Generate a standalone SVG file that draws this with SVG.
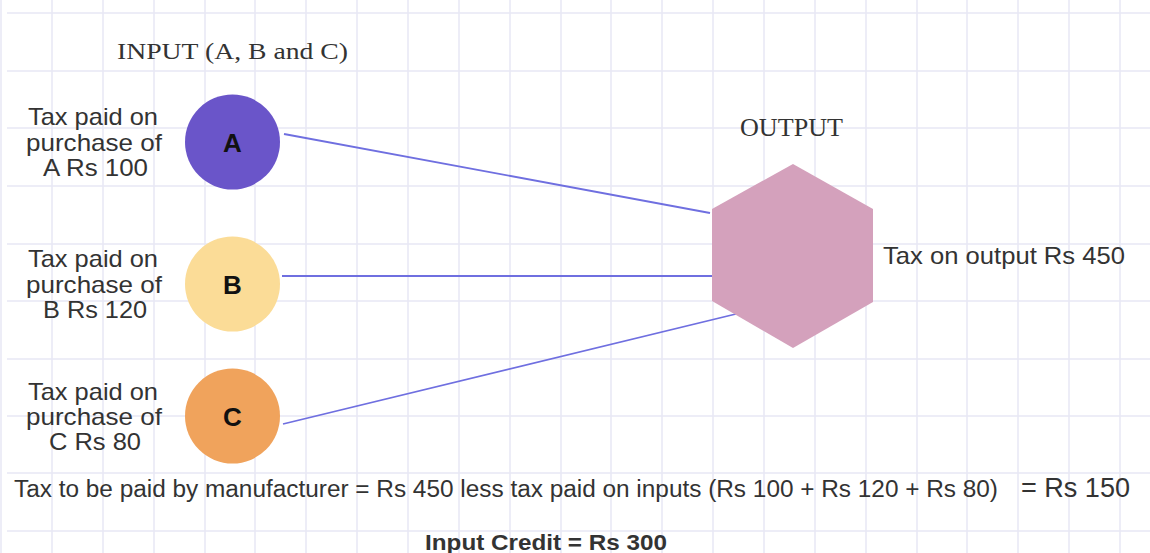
<svg xmlns="http://www.w3.org/2000/svg" width="1150" height="553" viewBox="0 0 1150 553">
<style>
.grid{stroke:#e8e8f5;stroke-width:1.5;fill:none}
.lbl{font-family:"Liberation Sans",Arial,sans-serif;font-size:24px;fill:#333;text-anchor:middle}
.nodeTxt{font-family:"Liberation Sans",Arial,sans-serif;font-size:26px;font-weight:bold;fill:#111;text-anchor:middle}
.serif{font-family:"Liberation Serif","Times New Roman",serif;fill:#333}
.sans{font-family:"Liberation Sans",Arial,sans-serif;fill:#333}
.conn{stroke:#6f6fe0;stroke-width:1.8;fill:none}
</style>
<rect width="1150" height="553" fill="#ffffff"/>
<g id="grid">
<path class="grid" d="M1,0V553M52,0V553M103,0V553M154,0V553M205,0V553M255,0V553M306,0V553M357,0V553M408,0V553M459,0V553M510,0V553M561,0V553M611,0V553M662,0V553M713,0V553M764,0V553M815,0V553M866,0V553M917,0V553M967,0V553M1018,0V553M1069,0V553M1120,0V553"/>
<path class="grid" d="M7,13H1150M7,71H1150M7,128H1150M7,186H1150M7,244H1150M7,301H1150M7,359H1150M7,416H1150M7,473H1150M7,531H1150"/>
</g>
<g id="connectors">
<line class="conn" x1="284" y1="134" x2="710" y2="213"/>
<line class="conn" x1="282" y1="276" x2="713" y2="276"/>
<line class="conn" x1="283" y1="424" x2="740" y2="313"/>
</g>
<g id="input-title">
<text class="serif" x="117" y="59" font-size="24" textLength="231" lengthAdjust="spacingAndGlyphs">INPUT (A, B and C)</text>
</g>
<g id="node-A">
<circle cx="232.5" cy="142" r="47.5" fill="#6a55c9"/>
<text class="nodeTxt" x="232.5" y="151.5">A</text>
<text class="lbl" x="93" y="125" textLength="130" lengthAdjust="spacingAndGlyphs">Tax paid on</text>
<text class="lbl" x="94" y="150.5" textLength="136" lengthAdjust="spacingAndGlyphs">purchase of</text>
<text class="lbl" x="95.5" y="176" textLength="105" lengthAdjust="spacingAndGlyphs">A Rs 100</text>
</g>
<g id="node-B">
<circle cx="232.5" cy="284" r="47.5" fill="#fbdc97"/>
<text class="nodeTxt" x="232.5" y="293.5">B</text>
<text class="lbl" x="93" y="267" textLength="130" lengthAdjust="spacingAndGlyphs">Tax paid on</text>
<text class="lbl" x="94" y="292.5" textLength="136" lengthAdjust="spacingAndGlyphs">purchase of</text>
<text class="lbl" x="95" y="318" textLength="104" lengthAdjust="spacingAndGlyphs">B Rs 120</text>
</g>
<g id="node-C">
<circle cx="232.5" cy="416" r="47.5" fill="#f0a35c"/>
<text class="nodeTxt" x="232.5" y="425.5">C</text>
<text class="lbl" x="93" y="400" textLength="130" lengthAdjust="spacingAndGlyphs">Tax paid on</text>
<text class="lbl" x="94" y="425" textLength="136" lengthAdjust="spacingAndGlyphs">purchase of</text>
<text class="lbl" x="95" y="450" textLength="92" lengthAdjust="spacingAndGlyphs">C Rs 80</text>
</g>
<g id="node-output">
<text class="serif" x="740" y="136" font-size="26" textLength="103" lengthAdjust="spacingAndGlyphs">OUTPUT</text>
<polygon points="793,164 873,209 873,302 793,348 712,301 712,209" fill="#d4a1bc"/>
<text class="sans" x="883" y="264" font-size="24" textLength="242" lengthAdjust="spacingAndGlyphs">Tax on output Rs 450</text>
</g>
<g id="formula">
<text class="sans" x="14" y="497" font-size="23" textLength="984" lengthAdjust="spacingAndGlyphs">Tax to be paid by manufacturer = Rs 450 less tax paid on inputs (Rs 100 + Rs 120 + Rs 80)</text>
<text class="sans" x="1021" y="497" font-size="27" textLength="109" lengthAdjust="spacingAndGlyphs">= Rs 150</text>
<text class="sans" x="425" y="550" font-size="22" font-weight="bold" fill="#222" textLength="242" lengthAdjust="spacingAndGlyphs">Input Credit = Rs 300</text>
</g>
</svg>
